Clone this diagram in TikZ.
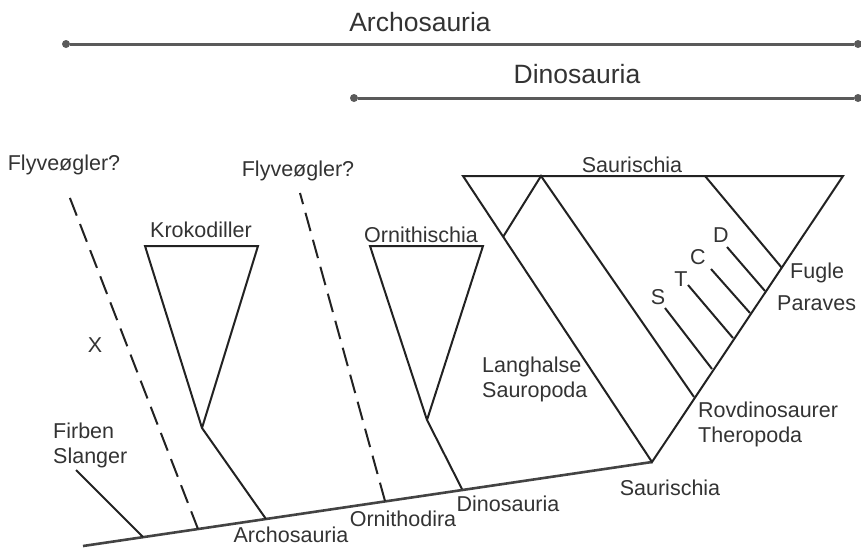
\documentclass[tikz,border=0pt]{standalone}
\usepackage{fontspec}
\setmainfont{Liberation Sans}
\usepackage{tikz}
\usepackage{xcolor}
\usetikzlibrary{positioning}
\definecolor{inkgray}{HTML}{222222}
\definecolor{textgray}{HTML}{333333}
\definecolor{bargray}{HTML}{5A5A5A}

\begin{document}
\begin{tikzpicture}[
    x=1pt, y=-1pt,
    txt/.style={text=textgray, inner sep=0pt, font=\fontsize{21.5}{25}\selectfont},
    bigtxt/.style={text=textgray, inner sep=0pt, font=\fontsize{26.5}{30}\selectfont},
    branch/.style={draw=inkgray, line width=2pt, line join=miter},
    ghost/.style={draw=inkgray, line width=2pt, dash pattern=on 19pt off 9pt},
    ground/.style={draw=inkgray!85, line width=2.6pt},
    span/.style={draw=bargray, line width=3pt},
    tip/.style={circle, fill=bargray, inner sep=0pt, minimum size=8pt}
]
\useasboundingbox (0,0) rectangle (861,547);
% clade ranges on top
\node[tip] (archA) at (66,44) {};
\node[tip] (archB) at (858,44) {};
\node[tip] (dinoA) at (354,98) {};
\node[tip] (dinoB) at (858,98) {};
\draw[span] (archA) -- (archB);
\draw[span] (dinoA) -- (dinoB);
\node[bigtxt] (archtop) at (420,22) {Archosauria};
\node[bigtxt] (dinotop) at (577,74) {Dinosauria};
% stem line and branch points
\coordinate (root) at (83,546);
\coordinate (fir) at (143,537);
\coordinate (dashA) at (198,529);
\coordinate (arch) at (266,519);
\coordinate (dashB) at (385,501);
\coordinate (dino) at (462,489);
\coordinate (sau) at (652,462);
\draw[ground] (root) -- (sau);
% lizards and snakes
\coordinate (firtip) at (76,470);
\draw[branch] (fir) -- (firtip);
\node[txt, align=left, anchor=west] (firben) at (53,445) {Firben\\Slanger};
% pterosaur guesses
\coordinate (dashAtop) at (68,193);
\coordinate (dashBtop) at (300,193);
\draw[ghost] (dashA) -- (dashAtop);
\draw[ghost] (dashB) -- (dashBtop);
\node[txt] (flyA) at (64,165) {Flyveøgler?};
\node[txt] (flyB) at (298,171) {Flyveøgler?};
\node[txt] (x) at (95,345) {X};
% crocodiles
\coordinate (krokV) at (202,428);
\coordinate (krokL) at (145,246);
\coordinate (krokR) at (258,246);
\draw[branch] (arch) -- (krokV) -- (krokL) -- (krokR) -- (krokV);
\node[txt] (krok) at (201,230) {Krokodiller};
% ornithischians
\coordinate (ornV) at (427,420);
\coordinate (ornL) at (370,246);
\coordinate (ornR) at (483,246);
\draw[branch] (dino) -- (ornV) -- (ornL) -- (ornR) -- (ornV);
\node[txt] (orn) at (421,235) {Ornithischia};
% saurischians
\coordinate (sauL) at (463,176);
\coordinate (sauR) at (843,176);
\coordinate (sauTop) at (541,176);
\coordinate (sauropod) at (503,237);
\coordinate (thero) at (694,397);
\coordinate (fugTop) at (705,176);
\coordinate (fug) at (782,268);
\draw[branch] (sau) -- (sauL) -- (sauR) -- cycle;
\draw[branch] (sauropod) -- (sauTop) -- (thero);
\draw[branch] (fugTop) -- (fug);
\draw[branch] (665,308) coordinate (sTop) -- (712,369) coordinate (sEnd);
\draw[branch] (688,285) coordinate (tTop) -- (733,338) coordinate (tEnd);
\draw[branch] (711,269) coordinate (cTop) -- (750,313) coordinate (cEnd);
\draw[branch] (727,247) coordinate (dTop) -- (765,291) coordinate (dEnd);
\node[txt] (s) at (658,297) {S};
\node[txt] (t) at (681,279) {T};
\node[txt] (c) at (698,257) {C};
\node[txt] (d) at (721,235) {D};
\node[txt] (sautop) at (632,165) {Saurischia};
\node[txt, anchor=west] (fugle) at (790,273) {Fugle};
\node[txt, anchor=west] (paraves) at (777,303) {Paraves};
\node[txt, align=left, anchor=west] (rovdino) at (698,424) {Rovdinosaurer\\Theropoda};
\node[txt, align=left, anchor=west] (langhalse) at (482,379) {Langhalse\\Sauropoda};
% labels along the stem
\node[txt] (saubot) at (670,488) {Saurischia};
\node[txt] (dinobot) at (508,504) {Dinosauria};
\node[txt] (ornitho) at (403,519) {Ornithodira};
\node[txt] (archbot) at (291,535) {Archosauria};
\end{tikzpicture}
\end{document}
